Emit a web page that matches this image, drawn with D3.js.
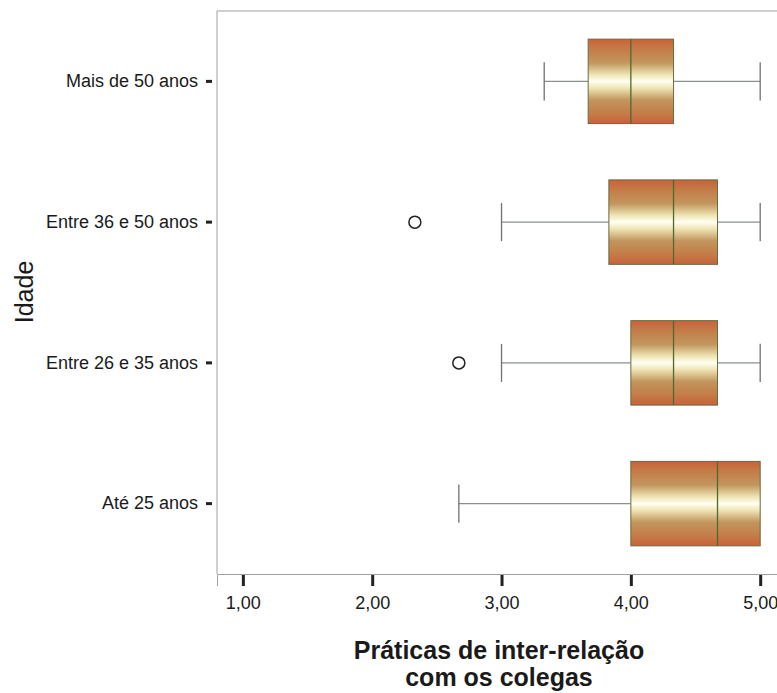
<!DOCTYPE html>
<html>
<head>
<meta charset="utf-8">
<script src="https://cdn.jsdelivr.net/npm/d3@7"></script>
<style>
  html, body { margin: 0; padding: 0; background: #fff; }
  svg { display: block; font-family: Arial, "Liberation Sans", sans-serif; }
</style>
</head>
<body>
<svg id="chart" width="777" height="693"></svg>
<script>
// ---- data ----
const categories = ["Mais de 50 anos", "Entre 36 e 50 anos", "Entre 26 e 35 anos", "Até 25 anos"];
const whiskerLow  = [3.33, 3.00, 3.00, 2.67];
const q1          = [3.67, 3.83, 4.00, 4.00];
const median      = [4.00, 4.33, 4.33, 4.67];
const q3          = [4.33, 4.67, 4.67, 5.00];
const whiskerHigh = [5.00, 5.00, 5.00, 5.00];
const outliers    = [[], [2.33], [2.67], []];
const xTicks      = [1, 2, 3, 4, 5];
const xTitle      = ["Práticas de inter-relação", "com os colegas"];
const yTitle      = "Idade";

(function () {
// ---- layout ----
const pLeft = 217, pRight = 777, pTop = 11, pBottom = 574;
const svg = d3.select("#chart");

const x = d3.scaleLinear().domain([0.8, 5.13]).range([pLeft, pRight]);
const y = d3.scaleBand().domain(categories).range([pTop, pBottom]).paddingInner(0.4).paddingOuter(0.2);

const locale = d3.formatLocale({decimal: ",", thousands: ".", grouping: [3], currency: ["", "€"]});
const fmt = locale.format(".2f");

// gradient
const defs = svg.append("defs");
const grad = defs.append("linearGradient").attr("id", "boxGrad")
  .attr("x1", 0).attr("y1", 0).attr("x2", 0).attr("y2", 1);
[[0, "#c9623a"], [0.12, "#c47c48"], [0.28, "#c2965e"], [0.42, "#efe4b4"], [0.5, "#fffff2"],
 [0.58, "#efe4b4"], [0.72, "#c2965e"], [0.88, "#c47c48"], [1, "#c9623a"]]
  .forEach(([o, c]) => grad.append("stop").attr("offset", o).attr("stop-color", c));

// frame lines
svg.append("line").attr("x1", pLeft).attr("x2", pRight).attr("y1", pTop).attr("y2", pTop)
  .attr("stroke", "#a0a0a0").attr("stroke-width", 1);
svg.append("line").attr("x1", pLeft).attr("x2", pLeft).attr("y1", pTop).attr("y2", pBottom)
  .attr("stroke", "#a0a0a0").attr("stroke-width", 1);

// x axis
const xAxis = svg.append("g").attr("transform", `translate(0,${pBottom})`)
  .call(d3.axisBottom(x).tickValues(xTicks).tickFormat(fmt).tickSizeOuter(0).tickSize(12).tickPadding(10));
xAxis.select(".domain").attr("stroke", "#a0a0a0").attr("stroke-width", 1);
xAxis.selectAll(".tick line").attr("stroke", "#222").attr("stroke-width", 3).attr("y1", 1);
xAxis.selectAll(".tick text").attr("font-size", 18).attr("fill", "#1a1a1a")
  .attr("font-family", "Arial, 'Liberation Sans', sans-serif");

// y axis
const yAxis = svg.append("g").attr("transform", `translate(${pLeft - 5},0)`)
  .call(d3.axisLeft(y).tickSize(6).tickPadding(8).tickSizeOuter(0));
yAxis.select(".domain").remove();
yAxis.selectAll(".tick line").attr("stroke", "#222").attr("stroke-width", 3);
yAxis.selectAll(".tick text").attr("font-size", 18).attr("fill", "#1a1a1a")
  .attr("font-family", "Arial, 'Liberation Sans', sans-serif");

// boxes
const rows = categories.map((c, i) => ({
  c, lo: whiskerLow[i], q1: q1[i], med: median[i], q3: q3[i], hi: whiskerHigh[i], out: outliers[i]
}));
const bw = y.bandwidth();
const capH = bw * 0.45;

const g = svg.append("g");
rows.forEach(r => {
  const cy = y(r.c) + bw / 2;
  g.append("line").attr("x1", x(r.lo)).attr("x2", x(r.q1)).attr("y1", cy).attr("y2", cy)
    .attr("stroke", "#8a9090").attr("stroke-width", 1.2);
  g.append("line").attr("x1", x(r.q3)).attr("x2", x(r.hi)).attr("y1", cy).attr("y2", cy)
    .attr("stroke", "#8a9090").attr("stroke-width", 1.2);
  if (r.lo < r.q1)
    g.append("line").attr("x1", x(r.lo)).attr("x2", x(r.lo)).attr("y1", cy - capH / 2).attr("y2", cy + capH / 2)
      .attr("stroke", "#707070").attr("stroke-width", 1.3);
  if (r.hi > r.q3)
    g.append("line").attr("x1", x(r.hi)).attr("x2", x(r.hi)).attr("y1", cy - capH / 2).attr("y2", cy + capH / 2)
      .attr("stroke", "#707070").attr("stroke-width", 1.3);
  g.append("rect").attr("x", x(r.q1)).attr("y", y(r.c)).attr("width", x(r.q3) - x(r.q1)).attr("height", bw)
    .attr("fill", "url(#boxGrad)").attr("stroke", "#6a6a40").attr("stroke-width", 1);
  g.append("line").attr("x1", x(r.med)).attr("x2", x(r.med)).attr("y1", y(r.c)).attr("y2", y(r.c) + bw)
    .attr("stroke", "#4f6a2e").attr("stroke-width", 1.3);
  r.out.forEach(v => {
    g.append("circle").attr("cx", x(v)).attr("cy", cy).attr("r", 6)
      .attr("fill", "#fff").attr("stroke", "#222").attr("stroke-width", 1.5);
  });
});

// titles
const tt = svg.append("text").attr("text-anchor", "middle").attr("font-size", 25).attr("font-weight", "bold")
  .attr("fill", "#1a1a1a");
xTitle.forEach((t, i) => tt.append("tspan").attr("x", 499).attr("y", 659 + i * 27).text(t));

svg.append("text").attr("transform", "translate(33,292) rotate(-90)").attr("text-anchor", "middle")
  .attr("font-size", 25).attr("fill", "#1a1a1a").text(yTitle);
})();
</script>
</body>
</html>
